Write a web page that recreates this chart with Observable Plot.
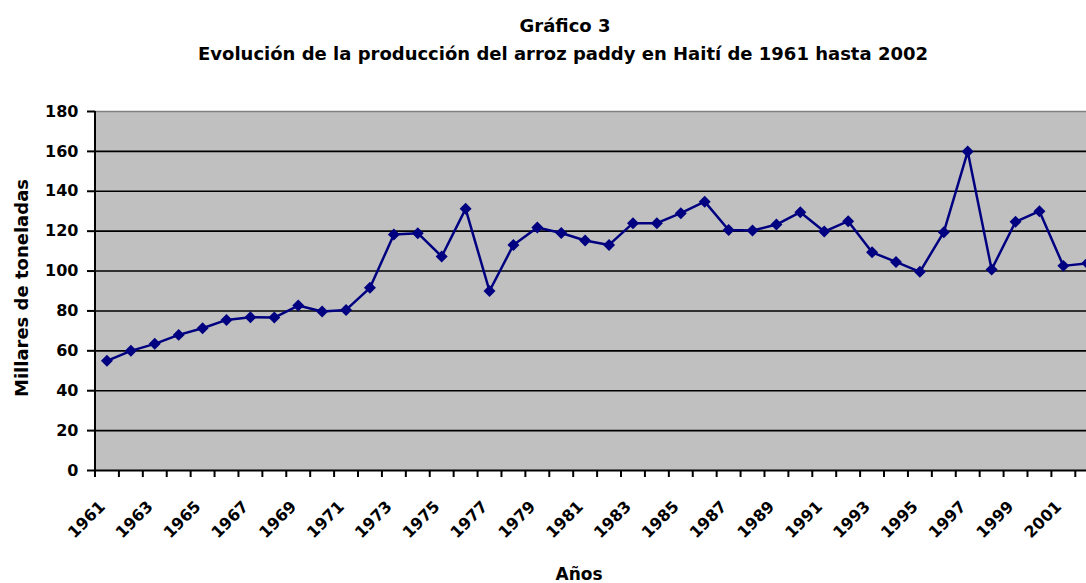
<!DOCTYPE html>
<html>
<head>
<meta charset="utf-8">
<script src="https://cdn.jsdelivr.net/npm/d3@7"></script>
<script src="https://cdn.jsdelivr.net/npm/@observablehq/plot@0.6"></script>
<style>
  html, body { margin: 0; padding: 0; background: #fff; overflow: hidden; }
  #chart svg { display: block; }
</style>
</head>
<body>
<div id="chart"></div>
<script>
// ---- Data ----
const years = [1961,1962,1963,1964,1965,1966,1967,1968,1969,1970,
               1971,1972,1973,1974,1975,1976,1977,1978,1979,1980,
               1981,1982,1983,1984,1985,1986,1987,1988,1989,1990,
               1991,1992,1993,1994,1995,1996,1997,1998,1999,2000,
               2001,2002];
const production = [55,60,63.5,68,71.3,75.5,76.8,76.7,82.7,79.7,
                    80.5,91.6,118.3,119,107.3,131.2,90,113.1,121.8,119.1,
                    115.3,113.1,124,124,129,134.8,120.6,120.3,123.3,129.5,
                    119.8,125,109.4,104.6,99.6,119.5,159.9,100.8,124.7,130,
                    102.6,103.9];
const yTicks = [0,20,40,60,80,100,120,140,160,180];
const xLabelYears = [1961,1963,1965,1967,1969,1971,1973,1975,1977,1979,
                     1981,1983,1985,1987,1989,1991,1993,1995,1997,1999,2001];
const title = "Gráfico 3";
const subtitle = "Evolución de la producción del arroz paddy en Haití de 1961 hasta 2002";
const yLabel = "Millares de toneladas";
const xLabel = "Años";

const data = years.map((year, i) => ({year, value: production[i]}));
// category boundaries (tick marks sit between categories, as in the original)
const boundaries = years.map(y => y - 0.5).concat([years[years.length - 1] + 0.5]);

const FONT = "DejaVu Sans, Liberation Sans, Arial, sans-serif";
const W = 1086, H = 583;
const mL = 95, mT = 111, mB = 113;
const step = 23.91;
const x0 = 94.5;

const chart = Plot.plot({
  width: W,
  height: H,
  marginLeft: mL,
  marginRight: 0,
  marginTop: mT,
  marginBottom: mB,
  style: {fontFamily: FONT, background: "#fff", color: "#000"},
  x: {type: "linear", domain: [years[0] - 0.5, years[years.length - 1] + 0.5],
      range: [x0, x0 + step * years.length]},
  y: {domain: [0, 180], range: [H - mB, mT]},
  marks: [
    Plot.frame({fill: "#c0c0c0", stroke: null}),
    Plot.ruleY(yTicks.filter(v => v > 0 && v < 180), {stroke: "#000", strokeWidth: 1.6}),
    Plot.ruleY([180], {stroke: "#808080", strokeWidth: 1.5}),
    Plot.ruleY([0], {stroke: "#000", strokeWidth: 2}),
    Plot.ruleX([years[0] - 0.5], {stroke: "#000", strokeWidth: 2}),
    Plot.axisY(yTicks, {
      tickSize: 8, tickPadding: 9, strokeWidth: 2,
      fontSize: 16, fontWeight: "bold", tickFormat: "d", label: null
    }),
    Plot.axisX(boundaries, {
      tickSize: 7, strokeWidth: 2, tickFormat: () => "", label: null
    }),
    Plot.axisX(xLabelYears, {
      tickSize: 0, tickPadding: 29, tickRotate: -45,
      textAnchor: "end", lineAnchor: "top", dx: -9,
      fontSize: 16, fontWeight: "bold", tickFormat: "d", label: null
    }),
    Plot.line(data, {x: "year", y: "value", stroke: "#000080", strokeWidth: 2.5}),
    Plot.dot(data, {x: "year", y: "value", symbol: "diamond2", r: 5.4,
                    fill: "#000080", stroke: null}),
    Plot.text([yLabel], {frameAnchor: "left", rotate: -90, dx: -68, dy: -3,
                         textAnchor: "middle", lineAnchor: "bottom",
                         fontSize: 18, fontWeight: "bold"}),
    Plot.text([xLabel], {frameAnchor: "bottom", dx: -12, dy: 109, lineAnchor: "bottom",
                         textAnchor: "middle", fontSize: 17, fontWeight: "bold"}),
    Plot.text([title], {frameAnchor: "top", dx: -26, dy: -80, lineAnchor: "bottom",
                        textAnchor: "middle", fontSize: 18, fontWeight: "bold"}),
    Plot.text([subtitle], {frameAnchor: "top", dx: -28, dy: -52, lineAnchor: "bottom",
                           textAnchor: "middle", fontSize: 18, fontWeight: "bold"})
  ]
});
document.getElementById("chart").appendChild(chart);
</script>
</body>
</html>
